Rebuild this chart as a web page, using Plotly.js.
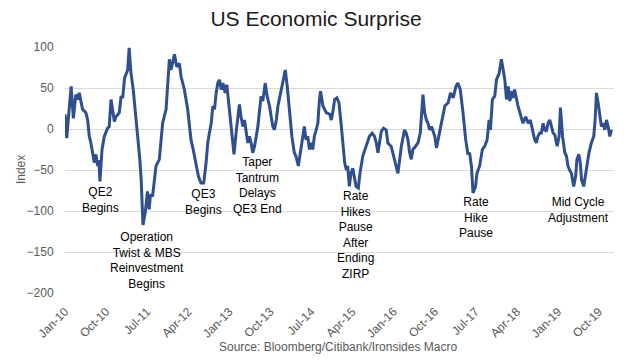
<!DOCTYPE html>
<html>
<head>
<meta charset="utf-8">
<script src="https://cdn.plot.ly/plotly-3.0.1.min.js"></script>
<style>html,body{margin:0;padding:0;background:#fff;}#chart{width:632px;height:363px;}</style>
</head>
<body>
<div id="chart"></div>
<script>
const dates = [
"2010-01-01","2010-01-06","2010-01-13","2010-01-22","2010-01-30","2010-02-11","2010-02-19","2010-02-26","2010-03-14","2010-03-25",
"2010-04-06","2010-04-17","2010-04-28","2010-05-20","2010-06-01","2010-06-12","2010-06-23","2010-07-04","2010-07-15","2010-07-26",
"2010-08-07","2010-08-15","2010-08-22","2010-09-05","2010-09-20","2010-10-12","2010-10-23","2010-11-04","2010-11-15","2010-11-26",
"2010-12-07","2010-12-29","2011-01-10","2011-01-21","2011-02-02","2011-02-12","2011-02-23","2011-03-05","2011-03-16","2011-04-01",
"2011-04-19","2011-05-04","2011-05-15","2011-05-24","2011-06-01","2011-06-05","2011-06-20","2011-07-05","2011-07-16","2011-07-25",
"2011-08-08","2011-08-20","2011-08-31","2011-09-22","2011-10-14","2011-11-06","2011-11-28","2011-12-09","2012-01-01","2012-01-16",
"2012-02-03","2012-02-14","2012-03-07","2012-03-29","2012-04-20","2012-05-05","2012-05-24","2012-06-09","2012-06-26","2012-07-14",
"2012-07-30","2012-08-10","2012-08-21","2012-09-02","2012-09-13","2012-09-24","2012-10-05","2012-10-16","2012-10-27","2012-11-08",
"2012-11-19","2012-12-04","2012-12-15","2012-12-29","2013-01-14","2013-02-01","2013-02-17","2013-02-26","2013-03-09","2013-03-20",
"2013-04-01","2013-04-12","2013-04-23","2013-05-04","2013-05-15","2013-05-26","2013-06-06","2013-06-18","2013-06-29","2013-07-10",
"2013-07-21","2013-08-01","2013-08-12","2013-08-28","2013-09-10","2013-09-26","2013-10-07","2013-10-18","2013-10-29","2013-11-10",
"2013-11-21","2013-12-08","2013-12-24","2014-01-09","2014-01-22","2014-02-07","2014-02-22","2014-03-10","2014-03-21","2014-04-06",
"2014-04-19","2014-05-05","2014-05-16","2014-05-27","2014-06-08","2014-06-19","2014-06-30","2014-07-11","2014-07-22","2014-08-03",
"2014-08-14","2014-08-25","2014-09-01","2014-09-17","2014-10-09","2014-11-01","2014-11-12","2014-11-23","2014-12-04","2014-12-19",
"2015-01-02","2015-01-18","2015-01-29","2015-02-09","2015-02-20","2015-03-01","2015-03-12","2015-03-23","2015-04-04","2015-04-15",
"2015-04-26","2015-05-11","2015-05-22","2015-06-10","2015-07-02","2015-07-24","2015-08-11","2015-08-27","2015-09-08","2015-09-19",
"2015-10-11","2015-10-26","2015-11-13","2015-11-24","2015-12-16","2016-01-08","2016-01-19","2016-01-30","2016-02-11","2016-02-22",
"2016-03-14","2016-03-25","2016-04-06","2016-04-17","2016-04-28","2016-05-09","2016-05-27","2016-06-12","2016-06-27","2016-07-15",
"2016-07-26","2016-08-07","2016-08-18","2016-08-29","2016-09-10","2016-09-21","2016-10-02","2016-10-13","2016-10-24","2016-11-04",
"2016-11-22","2016-12-08","2016-12-30","2017-01-15","2017-02-02","2017-02-20","2017-03-05","2017-03-21","2017-04-08","2017-04-26",
"2017-05-11","2017-05-22","2017-06-03","2017-06-14","2017-07-01","2017-07-10","2017-07-28","2017-08-15","2017-08-31","2017-09-16",
"2017-09-29","2017-10-08","2017-10-21","2017-11-06","2017-11-17","2017-12-05","2017-12-20","2018-01-01","2018-01-12","2018-01-23",
"2018-02-04","2018-02-15","2018-02-26","2018-03-07","2018-03-18","2018-04-10","2018-05-02","2018-05-13","2018-05-31","2018-06-16",
"2018-07-01","2018-07-19","2018-07-30","2018-08-10","2018-08-21","2018-09-02","2018-09-13","2018-09-24","2018-10-05","2018-10-16",
"2018-10-27","2018-11-08","2018-11-19","2018-11-30","2018-12-11","2018-12-27","2019-01-09","2019-01-18","2019-02-01","2019-02-16",
"2019-02-27","2019-03-09","2019-03-20","2019-04-01","2019-04-16","2019-04-29","2019-05-08","2019-05-21","2019-05-30","2019-06-08",
"2019-06-22","2019-07-05","2019-07-14","2019-07-27","2019-08-12","2019-08-28","2019-09-06","2019-09-15","2019-09-26","2019-10-07",
"2019-10-18","2019-10-29","2019-11-10","2019-11-21","2019-12-02","2019-12-13","2019-12-24"
];
const surpriseIndex = [
18,5,-11,10,28,52,30,13,42,36,
44,32,24,20,11,-9,-17,-29,-41,-31,
-45,-38,-64,-25,-9,1,3,36,22,9,
15,20,40,38,62,66,72,99,70,48,
15,-13,-37,-62,-90,-117,-102,-76,-98,-80,
-82,-60,-45,-37,7,24,85,72,91,76,
80,64,48,24,-13,-25,-45,-58,-66,-66,
-41,-17,-5,7,28,24,44,56,60,48,
56,44,54,28,7,-31,-1,17,30,15,
3,11,-5,-17,-9,-17,-29,-21,-9,3,
22,40,34,56,40,28,15,3,-1,11,
28,44,56,72,52,15,-9,-29,-33,-45,
-29,-9,3,-13,-9,-25,-17,-25,-9,-1,
7,36,46,28,20,18,11,22,36,38,
32,3,-17,-41,-50,-45,-70,-54,-48,-58,
-70,-72,-54,-33,-21,-9,-5,-9,-17,-29,
-3,1,-1,-17,-21,-37,-45,-54,-37,-21,
-1,-5,-13,-29,-37,-25,-21,-17,-5,42,
20,11,7,-1,3,-3,-9,-23,-13,-3,
15,28,32,44,38,52,56,48,20,-13,
-31,-29,-45,-78,-70,-54,-45,-25,-21,-13,
11,-1,36,40,60,68,85,72,60,36,
52,34,46,38,48,28,13,7,15,7,
11,-5,-13,-17,-9,-5,-5,7,-1,-3,
7,11,1,-5,-7,-21,-9,26,-9,-29,
-33,-45,-50,-54,-70,-58,-37,-31,-41,-62,
-70,-54,-41,-29,-17,-9,11,44,32,15,
3,7,-1,11,3,-9,-1
];
const tickDates = ["2010-01-01","2010-10-01","2011-07-01","2012-04-01","2013-01-01","2013-10-01","2014-07-01","2015-04-01","2016-01-01","2016-10-01","2017-07-01","2018-04-01","2019-01-01","2019-10-01"];
const tickLabels = ["Jan-10","Oct-10","Jul-11","Apr-12","Jan-13","Oct-13","Jul-14","Apr-15","Jan-16","Oct-16","Jul-17","Apr-18","Jan-19","Oct-19"];
const yTicks = [100,50,0,-50,-100,-150,-200];
const eventLabels = [
  "QE2<br>Begins",
  "Operation<br>Twist & MBS<br>Reinvestment<br>Begins",
  "QE3<br>Begins",
  "Taper<br>Tantrum<br>Delays<br>QE3 End",
  "Rate<br>Hikes<br>Pause<br>After<br>Ending<br>ZIRP",
  "Rate<br>Hike<br>Pause",
  "Mid Cycle<br>Adjustment"
];
const titleText = "US Economic Surprise";
const yTitleText = "Index";
const sourceText = "Source: Bloomberg/Citibank/Ironsides Macro";

const FONT = "Liberation Sans, Arial, sans-serif";
const labelPos = [[0.064,0.378],[0.149,0.134],[0.253,0.370],[0.350,0.435],[0.530,0.236],[0.749,0.305],[0.936,0.337]];
const annotations = eventLabels.map((t,i)=>({
  text:t, xref:'paper', yref:'paper', x:labelPos[i][0], y:labelPos[i][1],
  xanchor:'center', yanchor:'middle', showarrow:false, align:'center',
  font:{family:FONT,size:12,color:'#000'}
}));
annotations.push({text:sourceText, xref:'paper', yref:'paper', x:0.497, y:-0.2195,
  xanchor:'center', yanchor:'middle', showarrow:false, font:{family:FONT,size:12,color:'#595959'}});
annotations.push({text:yTitleText, xref:'paper', yref:'paper', x:-0.080, y:0.5, textangle:-90,
  xanchor:'center', yanchor:'middle', showarrow:false, font:{family:FONT,size:12,color:'#595959'}});

const trace = {
  x: dates, y: surpriseIndex, type:'scatter', mode:'lines',
  line:{color:'#2F4F8F', width:3}, hoverinfo:'skip'
};
const layout = {
  width:632, height:363,
  margin:{l:65, r:18, t:47, b:70},
  paper_bgcolor:'#fff', plot_bgcolor:'#fff',
  showlegend:false,
  font:{family:FONT, size:12, color:'#595959'},
  title:{text:titleText, x:0.5, xref:'container', y:0.948, yref:'container', yanchor:'middle',
    font:{family:FONT, size:21, color:'#1a1a1a'}},
  xaxis:{type:'date', range:['2010-01-01','2020-01-10'], tickvals:tickDates, ticktext:tickLabels,
    tickangle:-45, showgrid:false, zeroline:false, showline:false,
    ticks:'outside', ticklen:6, tickcolor:'rgba(0,0,0,0)',
    tickfont:{family:FONT,size:12,color:'#595959'}},
  yaxis:{range:[-200,100], tickvals:yTicks, showgrid:true, gridcolor:'#D9D9D9', gridwidth:1,
    zeroline:false, showline:false, ticks:'outside', ticklen:8, tickcolor:'rgba(0,0,0,0)',
    tickfont:{family:FONT,size:12,color:'#595959'}},
  annotations: annotations
};
Plotly.newPlot('chart',[trace],layout,{displayModeBar:false, staticPlot:true});
</script>
</body>
</html>
